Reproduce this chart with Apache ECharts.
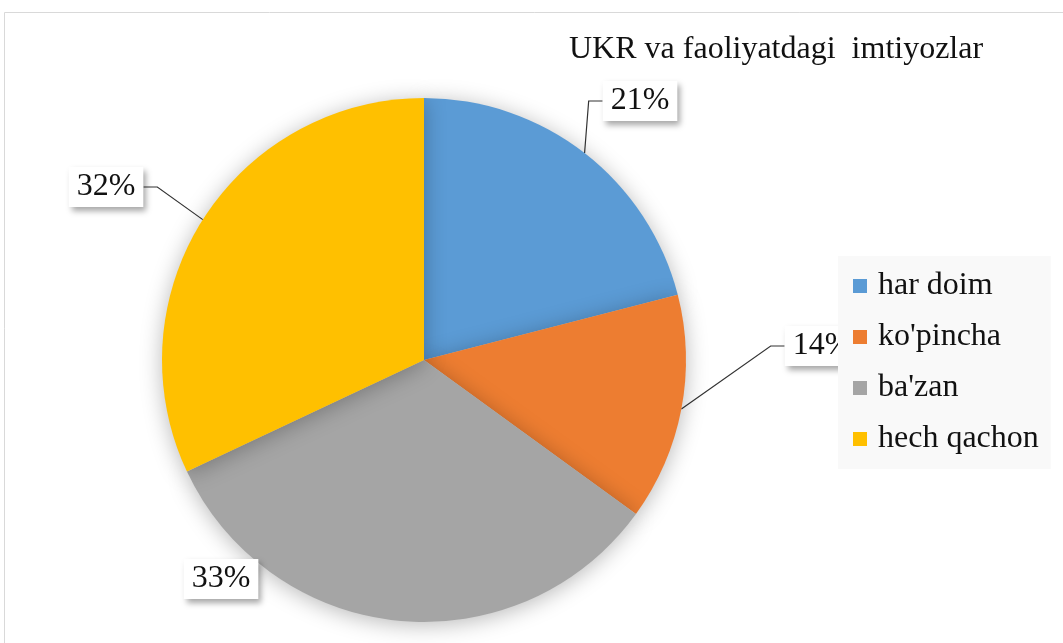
<!DOCTYPE html>
<html>
<head>
<meta charset="utf-8">
<script src="https://cdn.jsdelivr.net/npm/echarts@6/dist/echarts.min.js"></script>
<style>html,body{margin:0;padding:0;background:#fff}#c{width:1063px;height:643px}</style>
</head>
<body>
<div id="c"></div>
<script>
const titleText = 'UKR va faoliyatdagi  imtiyozlar';
const categories = ['har doim', "ko'pincha", "ba'zan", 'hech qachon'];
const values = [21, 14, 33, 32];
const colors = ['#5B9BD5', '#ED7D31', '#A5A5A5', '#FFC000'];

const FONT = '"Liberation Serif", "Times New Roman", serif';
// label centres (layout only)
const labelSpots = [[640, 101], [822, 346], [221, 579], [106, 187]];

const chart = echarts.init(document.getElementById('c'), null, {renderer: 'canvas'});
chart.setOption({
  backgroundColor: '#fff',
  animation: false,
  graphic: [{
    type: 'rect', silent: true, z: -10,
    shape: {x: 4.5, y: 12.5, width: 1080, height: 660},
    style: {fill: '#fff', stroke: '#d9d9d9', lineWidth: 1}
  }],
  title: {
    text: titleText, left: 564, top: 29,
    textStyle: {fontFamily: FONT, fontSize: 32, fontWeight: 'normal', color: '#111'}
  },
  legend: {
    orient: 'vertical', left: 838, top: 256,
    backgroundColor: '#f9f9f9',
    padding: [14, 12, 14, 15],
    itemWidth: 14, itemHeight: 14, itemGap: 19, icon: 'rect',
    textStyle: {fontFamily: FONT, fontSize: 32, color: '#111', padding: [0, 0, 0, 6]},
    data: categories
  },
  series: [{
    type: 'pie',
    center: [424, 360],
    radius: 262,
    startAngle: 90,
    clockwise: true,
    data: categories.map((c, i) => ({
      name: c, value: values[i], itemStyle: {color: colors[i]},
      labelLine: {show: i !== 2}
    })),
    itemStyle: {shadowBlur: 22, shadowColor: 'rgba(0,0,0,0.28)', shadowOffsetY: 3},
    label: {
      show: true, position: 'outside',
      formatter: p => p.value + '%',
      fontFamily: FONT, fontSize: 32, color: '#111',
      backgroundColor: '#fff', padding: [5, 8, 3, 8],
      shadowBlur: 6, shadowOffsetX: 3, shadowOffsetY: 4, shadowColor: 'rgba(0,0,0,0.35)'
    },
    labelLine: {show: true, length: 20, length2: 14, lineStyle: {color: '#333', width: 1.2}, smooth: false},
    labelLayout: function (params) {
      const s = labelSpots[params.dataIndex];
      return {x: s[0], y: s[1], align: 'center', verticalAlign: 'middle'};
    }
  }]
});
</script>
</body>
</html>
